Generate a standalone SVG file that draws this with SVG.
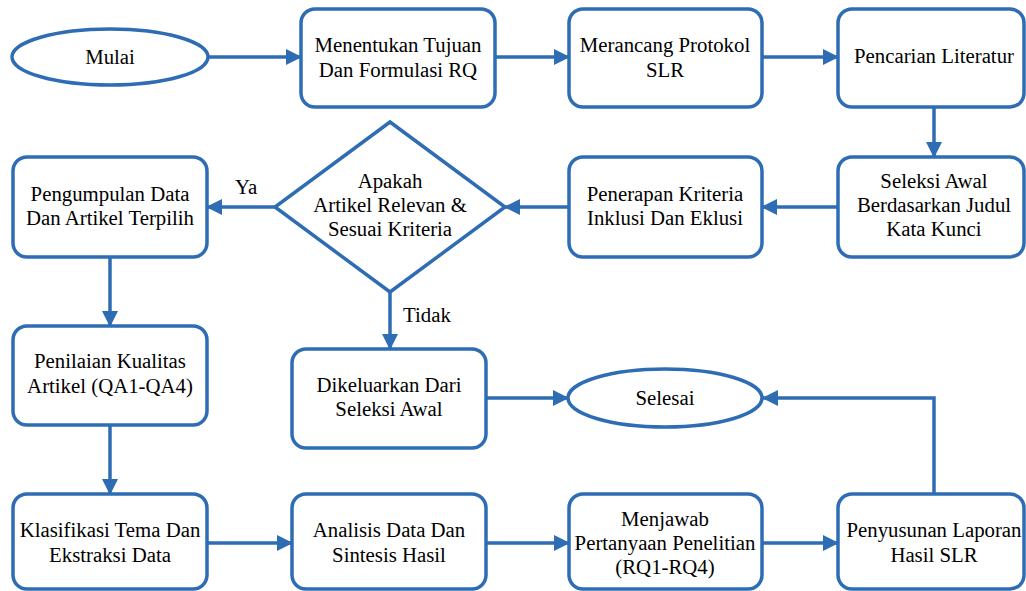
<svg xmlns="http://www.w3.org/2000/svg" width="1026" height="591" viewBox="0 0 1026 591" font-family="'Liberation Serif', 'Times New Roman', serif">
<defs>
<style>
.n{fill:#fff;stroke:#2E6DB3;stroke-width:3.5}
.c{fill:none;stroke:#2E6DB3;stroke-width:3.5}
text{font-family:'Liberation Serif','Times New Roman',serif;font-size:20.8px;fill:#000;text-anchor:middle}
.l{text-anchor:start}
</style>
<marker id="ah" markerUnits="userSpaceOnUse" markerWidth="16" markerHeight="16" refX="15" refY="8" orient="auto">
<path d="M0,0 L16,8 L0,16 z" fill="#2E6DB3"/>
</marker>
</defs>
<rect width="1026" height="591" fill="#fff"/>
<g id="connectors">
<path class="c" d="M208,57 L301,57" marker-end="url(#ah)"/>
<path class="c" d="M495,57 L569,57" marker-end="url(#ah)"/>
<path class="c" d="M762,57 L838,57" marker-end="url(#ah)"/>
<path class="c" d="M934,107 L934,157" marker-end="url(#ah)"/>
<path class="c" d="M838,207 L762,207" marker-end="url(#ah)"/>
<path class="c" d="M569,207 L505,207" marker-end="url(#ah)"/>
<path class="c" d="M275,207 L207,207" marker-end="url(#ah)"/>
<path class="c" d="M390,292 L390,349" marker-end="url(#ah)"/>
<path class="c" d="M110,257 L110,326" marker-end="url(#ah)"/>
<path class="c" d="M110,425 L110,494" marker-end="url(#ah)"/>
<path class="c" d="M207,543 L292,543" marker-end="url(#ah)"/>
<path class="c" d="M486,543 L569,543" marker-end="url(#ah)"/>
<path class="c" d="M762,543 L838,543" marker-end="url(#ah)"/>
<path class="c" d="M934,494 L934,398 L763,398" marker-end="url(#ah)"/>
<path class="c" d="M486,398 L568,398" marker-end="url(#ah)"/>
<text class="l" x="235" y="194">Ya</text>
<text class="l" x="403" y="322">Tidak</text>
</g>
<g id="mulai"><ellipse class="n" cx="110" cy="57" rx="98" ry="28"/><text x="110" y="64">Mulai</text></g>
<g id="menentukan"><rect class="n" x="301" y="9" width="194" height="98" rx="14"/><text x="398" y="52">Menentukan Tujuan</text><text x="398" y="77">Dan Formulasi RQ</text></g>
<g id="merancang"><rect class="n" x="569" y="9" width="193" height="98" rx="14"/><text x="665" y="52">Merancang Protokol</text><text x="665" y="77">SLR</text></g>
<g id="pencarian"><rect class="n" x="838" y="9" width="186" height="98" rx="14"/><text x="934" y="63">Pencarian Literatur</text></g>
<g id="seleksi"><rect class="n" x="838" y="157" width="186" height="100" rx="14"/><text x="934" y="188">Seleksi Awal</text><text x="934" y="212">Berdasarkan Judul</text><text x="934" y="236">Kata Kunci</text></g>
<g id="penerapan"><rect class="n" x="569" y="157" width="193" height="100" rx="14"/><text x="665" y="201">Penerapan Kriteria</text><text x="665" y="225">Inklusi Dan Eklusi</text></g>
<g id="keputusan"><polygon class="n" points="390,122 505,207 390,292 275,207"/><text x="390" y="188">Apakah</text><text x="390" y="212">Artikel Relevan &amp;</text><text x="390" y="236">Sesuai Kriteria</text></g>
<g id="pengumpulan"><rect class="n" x="13" y="157" width="194" height="100" rx="14"/><text x="110" y="201">Pengumpulan Data</text><text x="110" y="225">Dan Artikel Terpilih</text></g>
<g id="penilaian"><rect class="n" x="13" y="326" width="194" height="99" rx="14"/><text x="110" y="368">Penilaian Kualitas</text><text x="110" y="393">Artikel (QA1-QA4)</text></g>
<g id="dikeluarkan"><rect class="n" x="292" y="349" width="194" height="99" rx="14"/><text x="389" y="392">Dikeluarkan Dari</text><text x="389" y="416">Seleksi Awal</text></g>
<g id="selesai"><ellipse class="n" cx="665" cy="398" rx="97" ry="29"/><text x="665" y="405">Selesai</text></g>
<g id="klasifikasi"><rect class="n" x="13" y="494" width="194" height="95" rx="14"/><text x="110" y="537">Klasifikasi Tema Dan</text><text x="110" y="562">Ekstraksi Data</text></g>
<g id="analisis"><rect class="n" x="292" y="494" width="194" height="95" rx="14"/><text x="389" y="537">Analisis Data Dan</text><text x="389" y="562">Sintesis Hasil</text></g>
<g id="menjawab"><rect class="n" x="569" y="494" width="193" height="95" rx="14"/><text x="665" y="526">Menjawab</text><text x="665" y="550">Pertanyaan Penelitian</text><text x="665" y="574">(RQ1-RQ4)</text></g>
<g id="penyusunan"><rect class="n" x="838" y="494" width="186" height="95" rx="14"/><text x="934" y="537">Penyusunan Laporan</text><text x="934" y="562">Hasil SLR</text></g>
</svg>
